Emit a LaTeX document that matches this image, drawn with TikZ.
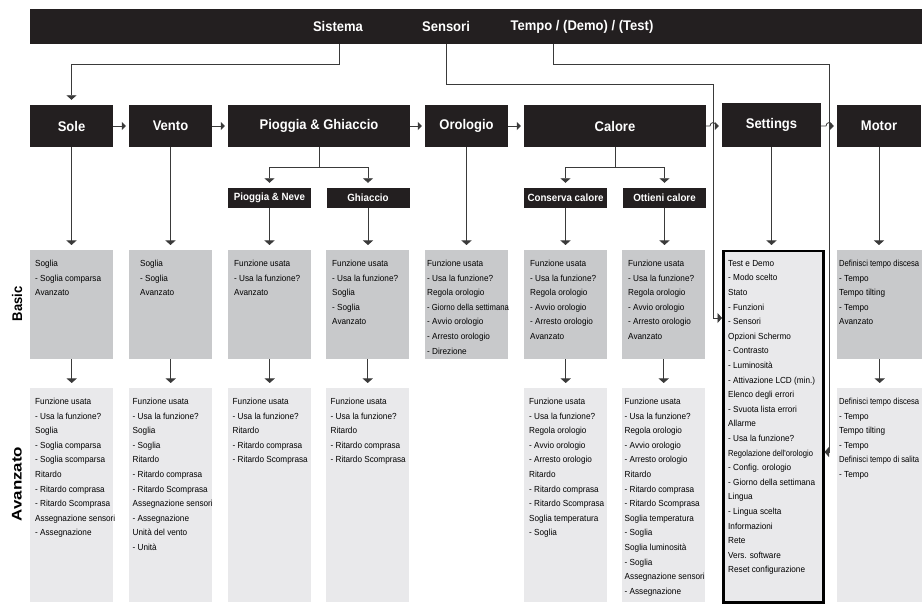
\documentclass[tikz,border=0pt]{standalone}
\usepackage{fontspec}
\setmainfont{Liberation Sans}
\newfontfamily\narrowfont[FakeStretch=0.93]{Liberation Sans}
\usetikzlibrary{arrows.meta}
\definecolor{barblack}{HTML}{231F20}
\definecolor{basicgray}{HTML}{C8C9CB}
\definecolor{advgray}{HTML}{E9E9EB}
\definecolor{linegray}{HTML}{3A3A3A}
\newcommand{\bodytxt}{\narrowfont\fontsize{8.8}{14.6}\selectfont}
\newcommand{\headtxt}{\narrowfont\bfseries\fontsize{14}{16}\selectfont}
\newcommand{\subtxt}{\narrowfont\bfseries\fontsize{10.5}{12}\selectfont}
\newcommand{\squeeze}[2]{\scalebox{#1}[1]{#2}}

\begin{document}
\begin{tikzpicture}[x=1pt,y=-1pt,
  hd/.style={fill=barblack,text=white,font=\headtxt,minimum height=42pt,inner sep=0pt},
  sub/.style={fill=barblack,text=white,font=\subtxt,minimum height=20pt,
              minimum width=83pt,inner sep=0pt},
  basic/.style={fill=basicgray,anchor=north west,minimum height=109pt,
                minimum width=83pt,inner sep=0pt},
  adv/.style={fill=advgray,anchor=north west,minimum height=214pt,
              minimum width=83pt,inner sep=0pt},
  txt/.style={font=\bodytxt,align=left,anchor=north west,inner sep=0pt},
  link/.style={draw=linegray,line width=0.8pt},
  arr/.style={link,-{Triangle[width=10pt,length=4.5pt]},shorten >=5pt},
  harr/.style={link,-{Triangle[width=8pt,length=4pt]},shorten >=3pt}]
\fill[white] (0,0) rectangle (922,612);
\useasboundingbox (0,0) rectangle (922,612);

% top bar
\node[fill=barblack,anchor=north west,minimum width=900pt,minimum height=35pt,inner sep=0pt]
  (bar) at (30,9) {};
\node[font=\headtxt,text=white] (sis) at (338,26.5) {Sistema};
\node[font=\headtxt,text=white] (sen) at (446,26.5) {Sensori};
\node[font=\headtxt,text=white] (tmp) at (582,26.5) {Tempo / (Demo) / (Test)};
\coordinate (sisout) at (339,44);
\coordinate (senout) at (446,44);
\coordinate (tmpout) at (553,44);

% side labels
\node[font=\headtxt,rotate=90] (lbasic) at (17,304) {Basic};
\node[font=\headtxt,rotate=90] (ladv) at (17,484) {\squeeze{1.3}{Avanzato}};

% menu headers
\node[hd,minimum width=83pt] (sole) at (71.5,126) {Sole};
\node[hd,minimum width=83pt] (vento) at (170.5,126) {Vento};
\node[hd,minimum width=182pt] (piog) at (319,126) {Pioggia \& Ghiaccio};
\node[hd,minimum width=83pt] (orol) at (466.5,126) {Orologio};
\node[hd,minimum width=182pt] (calo) at (615,126) {Calore};
\node[hd,minimum width=99pt,minimum height=44pt] (sett) at (771.5,125) {Settings};
\node[hd,minimum width=84pt] (moto) at (879,126) {Motor};

\node[sub] (neve) at (269.5,198) {Pioggia \& Neve};
\node[sub] (ghia) at (368,198) {Ghiaccio};
\node[sub] (cons) at (565.5,198) {Conserva calore};
\node[sub] (otti) at (664.5,198) {Ottieni calore};

% basic boxes
\node[basic] (bsole) at (30,250) {};
\node[basic] (bvento) at (129,250) {};
\node[basic] (bneve) at (228,250) {};
\node[basic] (bghia) at (326,250) {};
\node[basic] (borol) at (425,250) {};
\node[basic] (bcons) at (524,250) {};
\node[basic] (botti) at (622,250) {};
\node[basic,minimum width=85pt] (bmoto) at (837,250) {};
\node[fill=advgray,draw=black,line width=2.5pt,anchor=north west,minimum width=100pt,
      minimum height=351pt,inner sep=0pt] (bsett) at (722,250) {};

% avanzato boxes
\node[adv] (asole) at (30,388) {};
\node[adv] (avento) at (129,388) {};
\node[adv] (aneve) at (228,388) {};
\node[adv] (aghia) at (326,388) {};
\node[adv] (acons) at (524,388) {};
\node[adv] (aotti) at (622,388) {};
\node[adv,minimum width=85pt] (amoto) at (837,388) {};

% basic texts
\node[txt] (tbsole) at ([shift={(5,10)}]bsole.north west)
  {Soglia\\- Soglia comparsa\\Avanzato};
\node[txt] (tbvento) at ([shift={(11,10)}]bvento.north west)
  {Soglia\\- Soglia\\Avanzato};
\node[txt] (tbneve) at ([shift={(6,10)}]bneve.north west)
  {Funzione usata\\- Usa la funzione?\\Avanzato};
\node[txt] (tbghia) at ([shift={(6,10)}]bghia.north west)
  {Funzione usata\\- Usa la funzione?\\Soglia\\- Soglia\\Avanzato};
\node[txt] (tborol) at ([shift={(2,10)}]borol.north west)
  {Funzione usata\\- Usa la funzione?\\Regola orologio\\\squeeze{0.94}{- Giorno della settimana}\\
   - Avvio orologio\\- Arresto orologio\\- Direzione};
\node[txt] (tbcons) at ([shift={(6,10)}]bcons.north west)
  {Funzione usata\\- Usa la funzione?\\Regola orologio\\- Avvio orologio\\- Arresto orologio\\Avanzato};
\node[txt] (tbotti) at ([shift={(6,10)}]botti.north west)
  {Funzione usata\\- Usa la funzione?\\Regola orologio\\- Avvio orologio\\- Arresto orologio\\Avanzato};
\node[txt] (tbsett) at ([shift={(6,10)}]bsett.north west)
  {Test e Demo\\- Modo scelto\\Stato\\- Funzioni\\- Sensori\\Opzioni Schermo\\- Contrasto\\
   - Luminosità\\- Attivazione LCD (min.)\\Elenco degli errori\\- Svuota lista errori\\Allarme\\
   - Usa la funzione?\\\squeeze{0.93}{Regolazione dell'orologio}\\- Config. orologio\\
   - Giorno della settimana\\Lingua\\- Lingua scelta\\Informazioni\\Rete\\Vers. software\\
   Reset configurazione};
\node[txt] (tbmoto) at ([shift={(2,10)}]bmoto.north west)
  {\squeeze{0.93}{Definisci tempo discesa}\\- Tempo\\Tempo tilting\\- Tempo\\Avanzato};

% avanzato texts
\node[txt] (tasole) at ([shift={(5,10)}]asole.north west)
  {Funzione usata\\- Usa la funzione?\\Soglia\\- Soglia comparsa\\- Soglia scomparsa\\Ritardo\\
   - Ritardo comprasa\\- Ritardo Scomprasa\\Assegnazione sensori\\- Assegnazione};
\node[txt] (tavento) at ([shift={(3.5,10)}]avento.north west)
  {Funzione usata\\- Usa la funzione?\\Soglia\\- Soglia\\Ritardo\\- Ritardo comprasa\\
   - Ritardo Scomprasa\\Assegnazione sensori\\- Assegnazione\\Unità del vento\\- Unità};
\node[txt] (taneve) at ([shift={(4.5,10)}]aneve.north west)
  {Funzione usata\\- Usa la funzione?\\Ritardo\\- Ritardo comprasa\\- Ritardo Scomprasa};
\node[txt] (taghia) at ([shift={(4.5,10)}]aghia.north west)
  {Funzione usata\\- Usa la funzione?\\Ritardo\\- Ritardo comprasa\\- Ritardo Scomprasa};
\node[txt] (tacons) at ([shift={(5,10)}]acons.north west)
  {Funzione usata\\- Usa la funzione?\\Regola orologio\\- Avvio orologio\\- Arresto orologio\\
   Ritardo\\- Ritardo comprasa\\- Ritardo Scomprasa\\Soglia temperatura\\- Soglia};
\node[txt] (taotti) at ([shift={(2.5,10)}]aotti.north west)
  {Funzione usata\\- Usa la funzione?\\Regola orologio\\- Avvio orologio\\- Arresto orologio\\
   Ritardo\\- Ritardo comprasa\\- Ritardo Scomprasa\\Soglia temperatura\\- Soglia\\
   Soglia luminosità\\- Soglia\\Assegnazione sensori\\- Assegnazione};
\node[txt] (tamoto) at ([shift={(2,10)}]amoto.north west)
  {\squeeze{0.93}{Definisci tempo discesa}\\- Tempo\\Tempo tilting\\- Tempo\\
   \squeeze{0.93}{Definisci tempo di salita}\\- Tempo};

% connectors from the top bar
\coordinate (senin) at (713,318);
\coordinate (tmpin) at (829,452);
\draw[arr] (sisout) -- ++(0,20) -| (sole.north);
\draw[arr,shorten >=0pt] (senout) -- ++(0,40) -| (senin) -- (bsett.west |- senin);
\draw[arr,shorten >=0pt] (tmpout) -- ++(0,20) -| (tmpin) -- (bsett.east |- tmpin);

% header chain
\foreach \a/\b in {sole/vento,vento/piog,piog/orol,orol/calo}
  \draw[harr] (\a.east) -- (\b.west);
\draw[harr] (calo.east) -- (710,126) .. controls (710,121.5) and (716,121.5) .. (716,126)
  -- (sett.west |- calo.east);
\draw[harr] (sett.east |- moto.west) -- (826,126) .. controls (826,121.5) and (832,121.5) .. (832,126)
  -- (moto.west);

% branches
\coordinate (pbr) at (319,167);
\coordinate (cbr) at (615,167);
\draw[link] (piog.south) -- (pbr);
\draw[arr] (pbr) -| (neve.north);
\draw[arr] (pbr) -| (ghia.north);
\draw[link] (calo.south) -- (cbr);
\draw[arr] (cbr) -| (cons.north);
\draw[arr] (cbr) -| (otti.north);

\foreach \a/\b in {sole/bsole,vento/bvento,neve/bneve,ghia/bghia,orol/borol,
                   cons/bcons,otti/botti,sett/bsett,moto/bmoto}
  \draw[arr] (\a.south) -- (\a.south |- \b.north);
\foreach \a in {sole,vento,neve,ghia,cons,otti,moto}
  \draw[arr] (b\a.south) -- (b\a.south |- a\a.north);
\end{tikzpicture}
\end{document}
